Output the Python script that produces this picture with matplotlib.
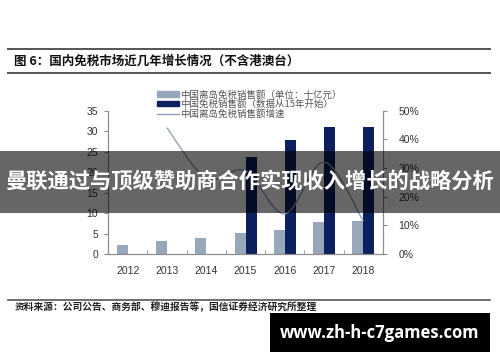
import numpy as np
import matplotlib
matplotlib.use("Agg")
import matplotlib.pyplot as plt
from matplotlib.patches import Patch, Rectangle, PathPatch
from matplotlib.lines import Line2D
from matplotlib.path import Path

plt.rcParams['font.family'] = ['Liberation Sans', 'Noto Sans CJK SC', 'DejaVu Sans']

years = ["2012", "2013", "2014", "2015", "2016", "2017", "2018"]
island_sales = [2.1, 3.1, 3.9, 5.2, 5.9, 7.9, 8.0]
total_sales = [None, None, None, 23.6, 27.8, 31.0, 31.0]
growth_years = ["2013", "2014", "2015", "2016", "2017", "2018"]
island_growth = [0.44, 0.265, 0.29, 0.14, 0.32, 0.115]

light = "#97a8ba"
navy = "#0c1f5e"
line_c = "#8ea2ba"
cjk = ['Noto Sans CJK SC', 'DejaVu Sans']

W, H = 500, 362
fig = plt.figure(figsize=(5, 3.62), dpi=100)

def fx(px):
    return px / W

def fy(py):
    return 1 - py / H

ax = fig.add_axes([fx(108), fy(254), fx(383) - fx(108), fy(110.5) - fy(254)])
ax2 = ax.twinx()

x = np.arange(len(years))
w = 0.28
ax.bar(x - w / 2, island_sales, width=w, color=light, zorder=2)
tx = [i for i, v in enumerate(total_sales) if v is not None]
tv = [v for v in total_sales if v is not None]
ax.bar(np.array(tx) + w / 2, tv, width=w, color=navy, zorder=2)

# smoothed growth line (Catmull-Rom through the data points)
gx = np.array([years.index(y) for y in growth_years], dtype=float)
gy = np.array(island_growth)
pts = np.column_stack([gx, gy])
ext = np.vstack([pts[0], pts, pts[-1]])
verts = [tuple(pts[0])]
codes = [Path.MOVETO]
for i in range(1, len(ext) - 2):
    p0, p1, p2, p3 = ext[i - 1], ext[i], ext[i + 1], ext[i + 2]
    c1 = p1 + (p2 - p0) / 6
    c2 = p2 - (p3 - p1) / 6
    verts += [tuple(c1), tuple(c2), tuple(p2)]
    codes += [Path.CURVE4] * 3
ax2.add_patch(PathPatch(Path(verts, codes), fill=False, edgecolor=line_c, lw=1.0, zorder=3))

ax.set_xlim(-0.5, len(years) - 0.5)
ax.set_ylim(0, 35)
ax2.set_ylim(0, 0.5)
ax.set_yticks(range(0, 36, 5))
ax2.set_yticks(np.arange(0, 0.51, 0.1))
ax2.set_yticklabels([f"{int(round(v * 100))}%" for v in np.arange(0, 0.51, 0.1)])
ax.set_xticks(x)
ax.set_xticklabels(years)
ax.set_xticks(np.arange(-0.5, len(years), 1), minor=True)

for a in (ax, ax2):
    a.spines['top'].set_visible(False)
    for s in ('left', 'right', 'bottom'):
        a.spines[s].set_color("#8c8c8c")
        a.spines[s].set_linewidth(0.8)
ax.tick_params(axis='x', which='major', length=0, pad=9, labelsize=7.5, colors="#333333")
ax.tick_params(axis='x', which='minor', length=3, direction='in', color="#8c8c8c")
ax.tick_params(axis='y', length=3, pad=4, labelsize=7.5, colors="#333333", color="#8c8c8c")
ax2.tick_params(axis='y', length=3, pad=8, labelsize=7.5, colors="#333333", color="#8c8c8c")

handles = [Patch(color=light), Patch(color=navy), Line2D([], [], color=line_c, lw=1)]
labels = ["中国离岛免税销售额（单位：十亿元）", "中国免税销售额（数据从15年开始）", "中国离岛免税销售额增速"]
leg = fig.legend(handles, labels, loc='upper left', bbox_to_anchor=(fx(153), fy(86)),
                 frameon=False, prop={'family': cjk, 'size': 6.8}, handlelength=2.3,
                 handleheight=0.5, labelspacing=0.0, handletextpad=0.2, borderaxespad=0)
for t in leg.get_texts():
    t.set_color("#555555")

# title and rules
fig.add_artist(Line2D([fx(8), fx(490)], [fy(49), fy(49)], color="#555555", lw=1.4))
fig.add_artist(Line2D([fx(8), fx(490)], [fy(73), fy(73)], color="#555555", lw=1.4))
fig.text(fx(14), fy(61), "图 6：国内免税市场近几年增长情况（不含港澳台）", family=cjk,
         fontsize=9, fontweight='bold', va='center', ha='left', color="#111111")
fig.add_artist(Line2D([fx(8), fx(490)], [fy(300), fy(300)], color="#555555", lw=1.2))
fig.text(fx(15), fy(307), "资料来源：公司公告、商务部、穆迪报告等，国信证券经济研究所整理", family=cjk,
         fontsize=7, fontweight='bold', va='center', ha='left', color="#222222")

# overlay banner
fig.add_artist(Rectangle((0, fy(212.7)), 1, fy(150.7) - fy(212.7), transform=fig.transFigure,
                         facecolor="black", alpha=0.6, zorder=10))
fig.text(0.5, fy(181.5), "曼联通过与顶级赞助商合作实现收入增长的战略分析", family=cjk,
         fontsize=15.3, fontweight='bold', color="white", ha='center', va='center', zorder=11)

# watermark
fig.add_artist(Rectangle((fx(270), fy(352)), fx(490) - fx(270), fy(313) - fy(352),
                         transform=fig.transFigure, facecolor="black", zorder=10))
fig.text(fx(380), fy(332.5), "www.zh-h-c7games.com", family=['Open Sans', 'DejaVu Sans'],
         fontsize=12, fontweight='bold', color="white", ha='center', va='center', zorder=11)

fig.savefig("out.png", dpi=100)
